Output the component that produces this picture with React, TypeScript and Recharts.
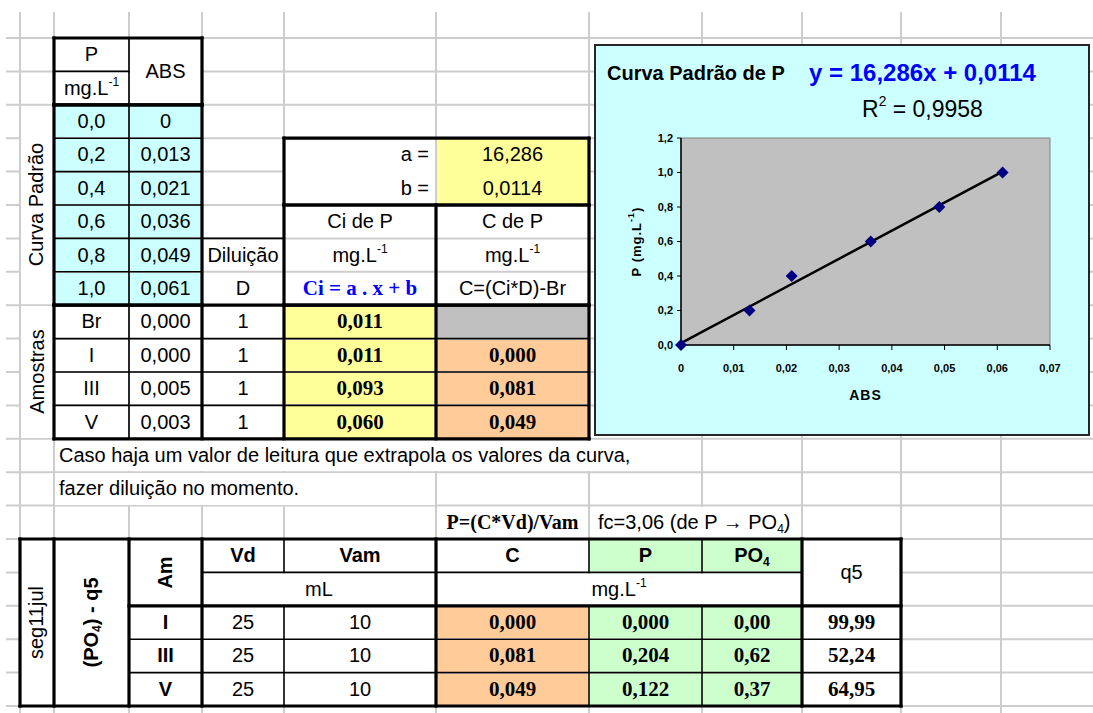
import React from "react";
import { Label, ReferenceArea, ReferenceLine, Scatter, ScatterChart, XAxis, YAxis } from "recharts";

// standard curve (P vs absorbance)
const curveP = [0, 0.2, 0.4, 0.6, 0.8, 1.0];
const curveAbs = [0, 0.013, 0.021, 0.036, 0.049, 0.061];
const slopeA = 16.286;
const interceptB = 0.0114;
const rSquared = 0.9958;

// samples read against the curve
const sampleNames = ["Br", "I", "III", "V"];
const sampleAbs = [0, 0, 0.005, 0.003];
const sampleDilution = [1, 1, 1, 1];
const sampleCi = [0.011, 0.011, 0.093, 0.06];
const sampleC = [null, 0, 0.081, 0.049];

// report table
const reportNames = ["I", "III", "V"];
const reportVd = [25, 25, 25];
const reportVam = [10, 10, 10];
const reportC = [0, 0.081, 0.049];
const reportP = [0, 0.204, 0.122];
const reportPO4 = [0, 0.62, 0.37];
const reportQ5 = [99.99, 52.24, 64.95];

const xTicks = [0, 0.01, 0.02, 0.03, 0.04, 0.05, 0.06, 0.07];
const yTicks = [0, 0.2, 0.4, 0.6, 0.8, 1.0, 1.2];

const curveData = curveAbs.map((abs, i) => ({ abs, p: curveP[i] }));
const fitEnd = Math.max(...curveAbs);

// sheet geometry
const COLS = [20, 54, 129, 202, 284, 436, 589, 702, 802, 901, 1001];
const ROW_TOP = 38;
const ROW_H = 33.4;
const rowY = (i: number) => ROW_TOP + ROW_H * i;

const SANS = "'Liberation Sans', Arial, sans-serif";
const SERIF = "'Liberation Serif', 'Times New Roman', serif";
const CYAN = "#ccffff";
const YELLOW = "#ffff99";
const ORANGE = "#ffcc99";
const GREEN = "#ccffcc";
const GREY = "#c0c0c0";

const dec = (v: number, n: number) => v.toFixed(n).replace(".", ",");

type CellProps = {
  c0: number;
  c1: number;
  r0: number;
  r1: number;
  bg?: string;
  align?: "flex-start" | "center" | "flex-end";
  style?: React.CSSProperties;
  children?: React.ReactNode;
};

function Cell({ c0, c1, r0, r1, bg, align = "center", style, children }: CellProps) {
  const left = COLS[c0] + 1;
  const top = rowY(r0) + 1;
  return (
    <div
      style={{
        position: "absolute",
        left,
        top,
        width: COLS[c1] - 1 - left,
        height: rowY(r1) - 1 - top,
        background: bg,
        display: "flex",
        alignItems: "center",
        justifyContent: align,
        whiteSpace: "nowrap",
        fontFamily: SANS,
        fontSize: 20,
        color: "#000",
        ...style
      }}
    >
      {children}
    </div>
  );
}

const Rot = ({ children }: { children: React.ReactNode }) => (
  <span style={{ display: "inline-block", transform: "rotate(-90deg)", whiteSpace: "nowrap" }}>{children}</span>
);

const supStyle: React.CSSProperties = { fontSize: "0.6em", position: "relative", top: "-0.75em", verticalAlign: "baseline", lineHeight: 0 };
const subStyle: React.CSSProperties = { fontSize: "0.6em", verticalAlign: "-0.3em", lineHeight: 0 };

const MgL = () => (
  <span>
    mg.L<span style={supStyle}>-1</span>
  </span>
);

const serifBold: React.CSSProperties = { fontFamily: SERIF, fontWeight: 700, fontSize: 21 };
const sansBold: React.CSSProperties = { fontWeight: 700 };

type Seg = [number, number, number, number, number];
const THIN = 1.6;
const THICK = 3.2;
const segs: Seg[] = [];
const v = (c: number, r0: number, r1: number, w: number) => segs.push([COLS[c], rowY(r0), COLS[c], rowY(r1), w]);
const h = (c0: number, c1: number, r: number, w: number) => segs.push([COLS[c0], rowY(r), COLS[c1], rowY(r), w]);
const rect = (c0: number, r0: number, c1: number, r1: number, w: number) => {
  h(c0, c1, r0, w);
  h(c0, c1, r1, w);
  v(c0, r0, r1, w);
  v(c1, r0, r1, w);
};

// upper block
rect(1, 0, 3, 2, THICK);
v(2, 0, 2, THIN);
h(1, 2, 1, THIN);
rect(1, 2, 3, 8, THICK);
v(2, 2, 8, THIN);
[3, 4, 5, 6, 7].forEach((r) => h(1, 3, r, THIN));
rect(4, 3, 6, 5, THICK);
rect(4, 5, 6, 8, THICK);
v(5, 5, 12, THICK);
h(3, 4, 6, THIN);
rect(1, 8, 6, 12, THICK);
v(2, 8, 12, THIN);
v(3, 8, 12, THICK);
v(4, 8, 12, THICK);
[9, 10, 11].forEach((r) => h(1, 6, r, THIN));

// lower block
rect(0, 15, 9, 20, THICK);
[1, 2, 3, 5, 8].forEach((c) => v(c, 15, 20, THICK));
[4, 6, 7].forEach((c) => {
  v(c, 15, 16, THIN);
  v(c, 17, 20, THIN);
});
h(3, 8, 16, THIN);
h(2, 9, 17, THICK);
h(2, 9, 18, THIN);
h(2, 9, 19, THIN);

const CHART_FONT = "'Liberation Sans', Arial, sans-serif";
const tickStyle = { fontSize: 11, fontWeight: 700, fill: "#000", fontFamily: CHART_FONT };

const Diamond = (props: { cx?: number; cy?: number }) => {
  const { cx = 0, cy = 0 } = props;
  const s = 6;
  return <polygon points={`${cx},${cy - s} ${cx + s},${cy} ${cx},${cy + s} ${cx - s},${cy}`} fill="#000080" />;
};

const renderYLabel = (props: any) => {
  const vb = props.viewBox || { x: 0, y: 0, width: 0, height: 0 };
  const x = vb.x + 40;
  const y = vb.y + vb.height / 2;
  return (
    <text
      x={x}
      y={y}
      transform={`rotate(-90, ${x}, ${y})`}
      textAnchor="middle"
      dominantBaseline="central"
      fontFamily={CHART_FONT}
      fontWeight={700}
      fontSize={13}
      letterSpacing={1}
      fill="#000"
    >
      P (mg.L
      <tspan dy={-5} fontSize={9}>
        -1
      </tspan>
      <tspan dy={5}>)</tspan>
    </text>
  );
};

const renderXLabel = (props: any) => {
  const vb = props.viewBox || { x: 0, y: 0, width: 0, height: 0 };
  return (
    <text
      x={vb.x + vb.width / 2}
      y={vb.y + 55}
      textAnchor="middle"
      fontFamily={CHART_FONT}
      fontWeight={700}
      fontSize={14}
      letterSpacing={1}
      fill="#000"
    >
      ABS
    </text>
  );
};

function CurveChart() {
  return (
    <div
      style={{
        position: "absolute",
        left: 594,
        top: 44,
        width: 496,
        height: 392,
        boxSizing: "border-box",
        border: "2px solid #262626",
        background: CYAN
      }}
    >
      <div style={{ position: "absolute", left: 11, top: 12, height: 30, display: "flex", alignItems: "center", fontFamily: CHART_FONT, fontWeight: 700, fontSize: 20, whiteSpace: "nowrap" }}>
        Curva Padrão de P
      </div>
      <div style={{ position: "absolute", left: 213, top: 12, height: 30, display: "flex", alignItems: "center", fontFamily: CHART_FONT, fontWeight: 700, fontSize: 24, color: "#0000ff", whiteSpace: "nowrap" }}>
        y = {dec(slopeA, 3)}x + {dec(interceptB, 4)}
      </div>
      <div style={{ position: "absolute", left: 266, top: 48, height: 30, display: "flex", alignItems: "center", fontFamily: CHART_FONT, fontSize: 23, whiteSpace: "nowrap" }}>
        <span>
          R<span style={supStyle}>2</span> = {dec(rSquared, 4)}
        </span>
      </div>
      <div style={{ position: "absolute", left: 0, top: 0 }}>
        <ScatterChart width={492} height={388} margin={{ top: 92, right: 38, bottom: 29, left: 0 }}>
          <ReferenceArea x1={0} x2={0.07} y1={0} y2={1.2} fill="#c0c0c0" fillOpacity={1} stroke="#808080" strokeWidth={1} />
          <XAxis
            type="number"
            dataKey="abs"
            domain={[0, 0.07]}
            ticks={xTicks}
            interval={0}
            height={60}
            tickSize={5}
            tickMargin={14}
            tickFormatter={(val: number) => (val === 0 ? "0" : dec(val, 2))}
            tick={tickStyle}
            axisLine={{ stroke: "#000", strokeWidth: 1.5 }}
            tickLine={{ stroke: "#000" }}
          >
            <Label content={renderXLabel} />
          </XAxis>
          <YAxis
            type="number"
            dataKey="p"
            domain={[0, 1.2]}
            ticks={yTicks}
            interval={0}
            width={85}
            tickSize={4}
            tickMargin={4}
            tickFormatter={(val: number) => dec(val, 1)}
            tick={tickStyle}
            axisLine={{ stroke: "#000", strokeWidth: 1.5 }}
            tickLine={{ stroke: "#000" }}
          >
            <Label content={renderYLabel} />
          </YAxis>
          <ReferenceLine
            segment={[
              { x: 0, y: interceptB },
              { x: fitEnd, y: slopeA * fitEnd + interceptB }
            ]}
            stroke="#000"
            strokeWidth={2.5}
          />
          <Scatter data={curveData} shape={Diamond} isAnimationActive={false} />
        </ScatterChart>
      </div>
    </div>
  );
}

export default function App() {
  const rows = Array.from({ length: 21 }, (_, i) => rowY(i));
  return (
    <div style={{ position: "absolute", left: 0, top: 0, width: 1093, height: 713, background: "#fff", overflow: "hidden" }}>
      {/* sheet gridlines */}
      <svg width={1093} height={713} style={{ position: "absolute", left: 0, top: 0 }}>
        {rows.map((y) => (
          <line key={`h${y}`} x1={6} x2={1093} y1={y} y2={y} stroke="#cdcdcd" strokeWidth={2} />
        ))}
        {COLS.map((x) => (
          <line key={`v${x}`} x1={x} x2={x} y1={12} y2={713} stroke="#cdcdcd" strokeWidth={2} />
        ))}
      </svg>

      {/* header */}
      <Cell c0={1} c1={2} r0={0} r1={1} bg="#fff">P</Cell>
      <Cell c0={1} c1={2} r0={1} r1={2} bg="#fff"><MgL /></Cell>
      <Cell c0={2} c1={3} r0={0} r1={2} bg="#fff">ABS</Cell>

      <Cell c0={0} c1={1} r0={2} r1={8} bg="#fff"><Rot>Curva Padrão</Rot></Cell>
      <Cell c0={0} c1={1} r0={8} r1={12} bg="#fff"><Rot>Amostras</Rot></Cell>

      {curveP.map((p, i) => (
        <React.Fragment key={`c${i}`}>
          <Cell c0={1} c1={2} r0={2 + i} r1={3 + i} bg={CYAN}>{dec(p, 1)}</Cell>
          <Cell c0={2} c1={3} r0={2 + i} r1={3 + i} bg={CYAN}>{curveAbs[i] === 0 ? "0" : dec(curveAbs[i], 3)}</Cell>
        </React.Fragment>
      ))}

      {/* coefficients */}
      <Cell c0={4} c1={5} r0={3} r1={5} bg="#fff" />
      <Cell c0={5} c1={6} r0={3} r1={5} bg={YELLOW} />
      <Cell c0={4} c1={5} r0={3} r1={4} align="flex-end" style={{ paddingRight: 6, boxSizing: "border-box" }}>a =</Cell>
      <Cell c0={4} c1={5} r0={4} r1={5} align="flex-end" style={{ paddingRight: 6, boxSizing: "border-box" }}>b =</Cell>
      <Cell c0={5} c1={6} r0={3} r1={4}>{dec(slopeA, 3)}</Cell>
      <Cell c0={5} c1={6} r0={4} r1={5}>{dec(interceptB, 4)}</Cell>

      <Cell c0={4} c1={5} r0={5} r1={6}>Ci de P</Cell>
      <Cell c0={4} c1={5} r0={6} r1={7}><MgL /></Cell>
      <Cell c0={4} c1={5} r0={7} r1={8} style={{ ...serifBold, color: "#0000ff" }}>Ci = a . x + b</Cell>
      <Cell c0={5} c1={6} r0={5} r1={6}>C de P</Cell>
      <Cell c0={5} c1={6} r0={6} r1={7}><MgL /></Cell>
      <Cell c0={5} c1={6} r0={7} r1={8}>C=(Ci*D)-Br</Cell>
      <Cell c0={3} c1={4} r0={6} r1={7}>Diluição</Cell>
      <Cell c0={3} c1={4} r0={7} r1={8}>D</Cell>

      {sampleNames.map((name, i) => {
        const c = sampleC[i];
        return (
          <React.Fragment key={`s${i}`}>
            <Cell c0={1} c1={2} r0={8 + i} r1={9 + i} bg="#fff">{name}</Cell>
            <Cell c0={2} c1={3} r0={8 + i} r1={9 + i} bg="#fff">{dec(sampleAbs[i], 3)}</Cell>
            <Cell c0={3} c1={4} r0={8 + i} r1={9 + i} bg="#fff">{sampleDilution[i]}</Cell>
            <Cell c0={4} c1={5} r0={8 + i} r1={9 + i} bg={YELLOW} style={serifBold}>{dec(sampleCi[i], 3)}</Cell>
            <Cell c0={5} c1={6} r0={8 + i} r1={9 + i} bg={c === null ? GREY : ORANGE} style={serifBold}>
              {c === null ? "" : dec(c, 3)}
            </Cell>
          </React.Fragment>
        );
      })}

      {/* notes */}
      <Cell c0={1} c1={7} r0={12} r1={13} bg="#fff" align="flex-start" style={{ paddingLeft: 4, boxSizing: "border-box" }}>
        Caso haja um valor de leitura que extrapola os valores da curva,
      </Cell>
      <Cell c0={1} c1={5} r0={13} r1={14} bg="#fff" align="flex-start" style={{ paddingLeft: 4, boxSizing: "border-box" }}>
        fazer diluição no momento.
      </Cell>
      <Cell c0={4} c1={5} r0={14} r1={15} bg="#fff" />
      <Cell c0={5} c1={6} r0={14} r1={15} style={{ ...serifBold, fontSize: 20 }}>P=(C*Vd)/Vam</Cell>
      <Cell c0={6} c1={8} r0={14} r1={15} bg="#fff" align="flex-start" style={{ paddingLeft: 8, boxSizing: "border-box" }}>
        <span>
          fc=3,06 (de P → PO<span style={subStyle}>4</span>)
        </span>
      </Cell>

      {/* report table */}
      <Cell c0={0} c1={9} r0={15} r1={20} bg="#fff" />
      <Cell c0={0} c1={1} r0={15} r1={20}><Rot>seg11jul</Rot></Cell>
      <Cell c0={1} c1={2} r0={15} r1={20} style={sansBold}>
        <Rot>
          (PO<span style={subStyle}>4</span>) - q5
        </Rot>
      </Cell>
      <Cell c0={2} c1={3} r0={15} r1={17} style={sansBold}><Rot>Am</Rot></Cell>
      <Cell c0={3} c1={4} r0={15} r1={16} style={sansBold}>Vd</Cell>
      <Cell c0={4} c1={5} r0={15} r1={16} style={sansBold}>Vam</Cell>
      <Cell c0={3} c1={5} r0={16} r1={17}>mL</Cell>
      <Cell c0={5} c1={6} r0={15} r1={16} style={sansBold}>C</Cell>
      <Cell c0={6} c1={7} r0={15} r1={16} bg={GREEN} style={sansBold}>P</Cell>
      <Cell c0={7} c1={8} r0={15} r1={16} bg={GREEN} style={sansBold}>
        <span>
          PO<span style={subStyle}>4</span>
        </span>
      </Cell>
      <Cell c0={5} c1={8} r0={16} r1={17}><MgL /></Cell>
      <Cell c0={8} c1={9} r0={15} r1={17}>q5</Cell>

      {reportNames.map((name, i) => (
        <React.Fragment key={`r${i}`}>
          <Cell c0={2} c1={3} r0={17 + i} r1={18 + i} style={sansBold}>{name}</Cell>
          <Cell c0={3} c1={4} r0={17 + i} r1={18 + i}>{reportVd[i]}</Cell>
          <Cell c0={4} c1={5} r0={17 + i} r1={18 + i}>{reportVam[i]}</Cell>
          <Cell c0={5} c1={6} r0={17 + i} r1={18 + i} bg={ORANGE} style={serifBold}>{dec(reportC[i], 3)}</Cell>
          <Cell c0={6} c1={7} r0={17 + i} r1={18 + i} bg={GREEN} style={serifBold}>{dec(reportP[i], 3)}</Cell>
          <Cell c0={7} c1={8} r0={17 + i} r1={18 + i} bg={GREEN} style={serifBold}>{dec(reportPO4[i], 2)}</Cell>
          <Cell c0={8} c1={9} r0={17 + i} r1={18 + i} style={serifBold}>{dec(reportQ5[i], 2)}</Cell>
        </React.Fragment>
      ))}

      {/* cell borders */}
      <svg width={1093} height={713} style={{ position: "absolute", left: 0, top: 0, pointerEvents: "none" }}>
        {segs.map(([x1, y1, x2, y2, w], i) => (
          <line key={i} x1={x1} y1={y1} x2={x2} y2={y2} stroke="#000" strokeWidth={w} strokeLinecap="square" />
        ))}
      </svg>

      <CurveChart />
    </div>
  );
}
